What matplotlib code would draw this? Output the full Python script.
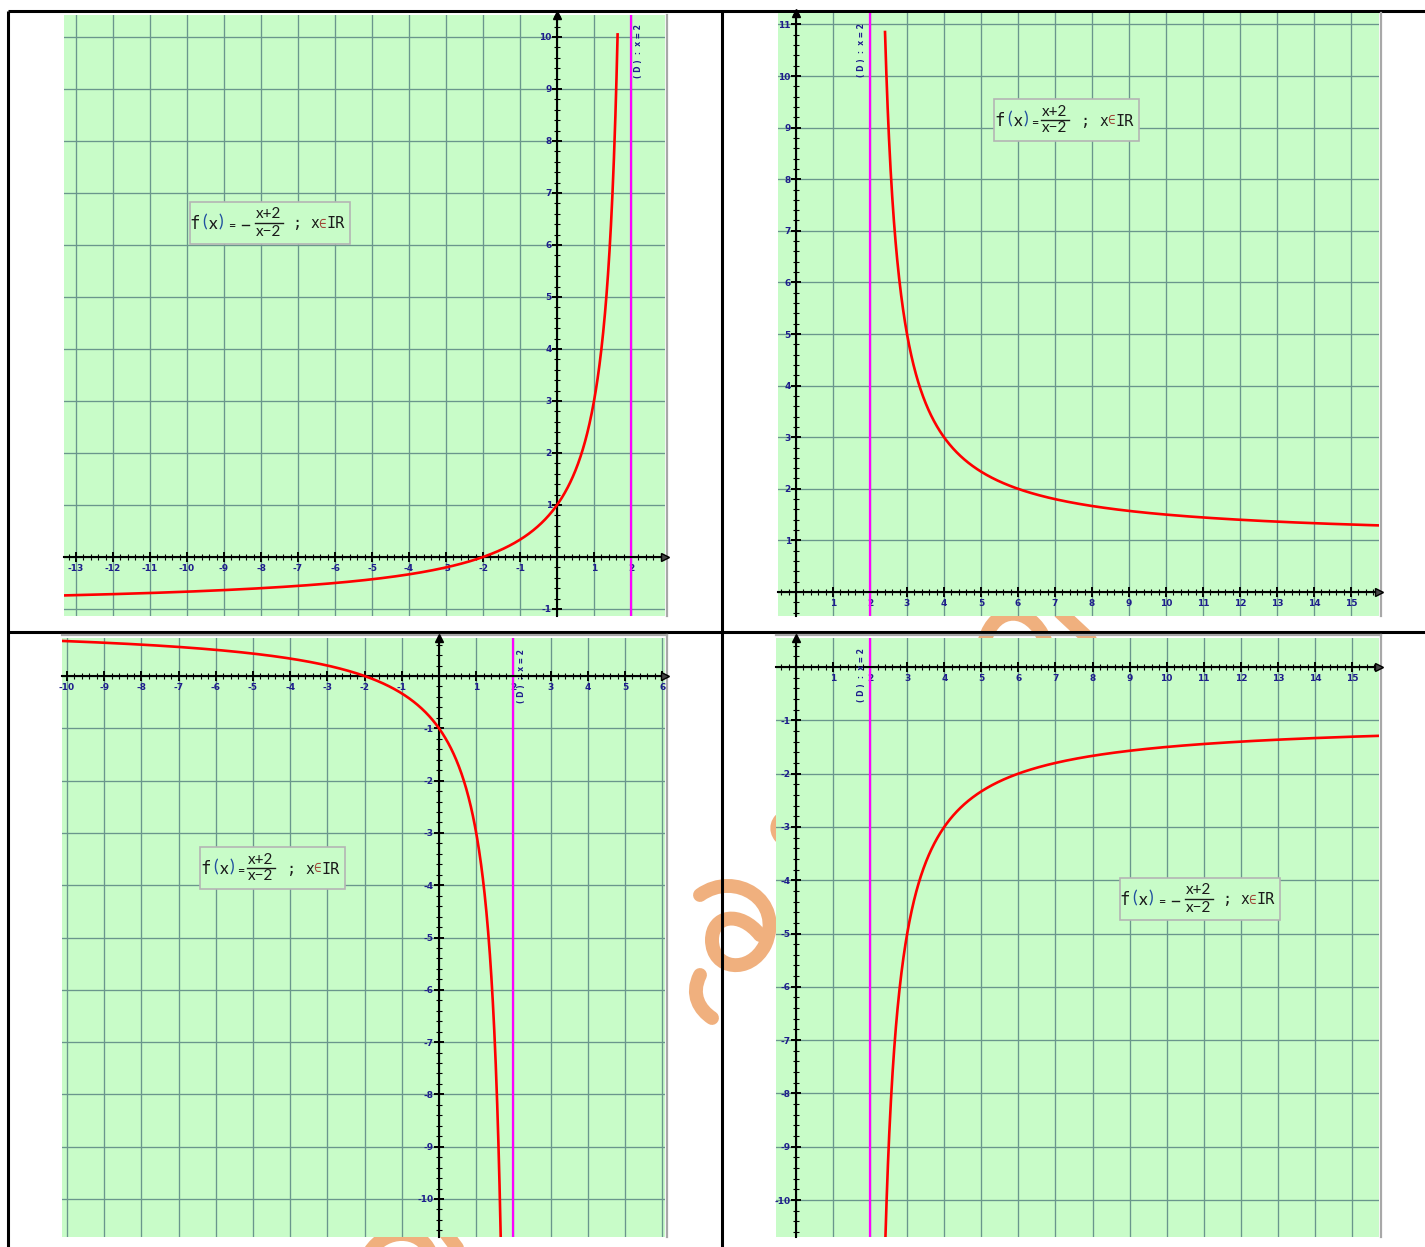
import numpy as np
import matplotlib
matplotlib.use("Agg")
import matplotlib.pyplot as plt
from matplotlib.patches import Rectangle, PathPatch
from matplotlib.path import Path
from matplotlib.ticker import MultipleLocator

W, H = 1425, 1247

# ---------------------------------------------------------------- data
asymptote_x = 2
# f(x) = sign * (x+2)/(x-2) for each of the four graphs
signs = [-1, 1, 1, -1]
curve_x_from = [-13.35, 2.406, -10.13, 2.41]
curve_x_to = [1.638, 15.73, 1.659, 15.73]

x_ticks = [list(range(-13, 3)), list(range(0, 16)),
           list(range(-10, 7)), list(range(0, 16))]
x_labels = [["-13", "-12", "-11", "-10", "-9", "-8", "-7", "-6", "-5", "-4",
             "-3", "-2", "-1", "", "1", "2"],
            ["", "1", "2", "3", "4", "5", "6", "7", "8", "9", "10", "11",
             "12", "13", "14", "15"],
            ["-10", "-9", "-8", "-7", "-6", "-5", "-4", "-3", "-2", "-1", "",
             "1", "2", "3", "4", "5", "6"],
            ["", "1", "2", "3", "4", "5", "6", "7", "8", "9", "10", "11",
             "12", "13", "14", "15"]]
y_ticks = [list(range(-1, 11)), list(range(0, 12)),
           list(range(-10, 1)), list(range(-10, 1))]
y_labels = [["-1", "", "1", "2", "3", "4", "5", "6", "7", "8", "9", "10"],
            ["", "1", "2", "3", "4", "5", "6", "7", "8", "9", "10", "11"],
            ["-10", "-9", "-8", "-7", "-6", "-5", "-4", "-3", "-2", "-1", ""],
            ["-10", "-9", "-8", "-7", "-6", "-5", "-4", "-3", "-2", "-1", ""]]
asymptote_label = "( D )  :  x = 2"

# ---------------------------------------------------------------- layout
# panel boxes in pixels (left, top, right, bottom), axis origin and unit sizes
boxes = [(64, 15, 665, 616), (778, 13, 1379, 616),
         (62, 638, 665, 1237), (776, 638, 1379, 1237)]
origins = [(557, 557), (796, 592), (439, 676), (796, 667)]
units = [(37.0, 52.0), (37.0, 51.6), (37.2, 52.3), (37.07, 53.3)]
# asymptote caption position (data coords)
cap_pos = [(2.19, 9.72), (1.78, 10.5), (2.22, 0.0), (1.78, -0.15)]
# formula boxes: fraction centre x, fraction bar y (pixels)
formula_pos = [(269, 223), (1055, 120), (261, 868), (1199, 899)]

GREEN = "#C8FCC8"
GRID = "#6A968C"
NAVY = "#1E1E8C"
RED = "#FF0000"
MAGENTA = "#FF00FF"
ORANGE = "#F0B07E"

fig = plt.figure(figsize=(W / 100, H / 100), dpi=100)
fig.patch.set_facecolor("white")

# background layer in pixel coordinates
bg = fig.add_axes([0, 0, 1, 1], zorder=0)
bg.set_xlim(0, W)
bg.set_ylim(H, 0)
bg.axis("off")

# faint decorative strokes behind the panels
def stroke(ax, verts, codes, lw=10):
    ax.add_patch(PathPatch(Path(verts, codes), fc="none", ec=ORANGE,
                           lw=lw, capstyle="round", joinstyle="round"))

M, C, L = Path.MOVETO, Path.CURVE4, Path.LINETO
stroke(bg, [(700, 895), (735, 870), (785, 900), (765, 945),
            (750, 975), (712, 970), (712, 940)],
       [M, C, C, C, C, C, C])
stroke(bg, [(712, 940), (712, 915), (740, 910), (760, 935)],
       [M, C, C, C])
stroke(bg, [(700, 975), (690, 995), (700, 1010), (712, 1018)],
       [M, C, C, C])
stroke(bg, [(985, 640), (995, 605), (1030, 605), (1045, 640)], [M, C, C, C])
stroke(bg, [(1060, 612), (1090, 640)], [M, L])
stroke(bg, [(370, 1252), (385, 1228), (420, 1228), (430, 1252)], [M, C, C, C])
stroke(bg, [(445, 1232), (460, 1252)], [M, L])
stroke(bg, [(782, 815), (772, 822), (772, 834), (782, 842)], [M, C, C, C], lw=6)

# table rules
tk = dict(color="black", lw=2.2, solid_capstyle="butt")
bg.plot([8, W], [11, 11], **tk)
bg.plot([8, W], [632, 632], **tk)
bg.plot([8, 8], [11, H], **tk)
bg.plot([722, 722], [11, H], **tk)

# grey frame edges of the graph windows
for i, (l, t, r, b) in enumerate(boxes):
    bg.plot([r + 2, r + 2], [t - (3 if i >= 2 else 0), b], color="#A8A8A8", lw=1.6)
    if i >= 2:
        bg.plot([l, r + 2], [t - 3, t - 3], color="#A8A8A8", lw=1.6)

# ---------------------------------------------------------------- graphs
for i in range(4):
    l, t, r, b = boxes[i]
    ox, oy = origins[i]
    ux, uy = units[i]
    ax = fig.add_axes([l / W, 1 - b / H, (r - l) / W, (b - t) / H], zorder=2)
    ax.set_facecolor(GREEN)
    ax.set_xlim((l - ox) / ux, (r - ox) / ux)
    ax.set_ylim((oy - b) / uy, (oy - t) / uy)

    ax.spines["left"].set_position("zero")
    ax.spines["bottom"].set_position("zero")
    ax.spines["top"].set_visible(False)
    ax.spines["right"].set_visible(False)
    for s in ("left", "bottom"):
        ax.spines[s].set_linewidth(1.5)
        ax.spines[s].set_color("black")
        ax.spines[s].set_zorder(4)

    ax.set_xticks(x_ticks[i])
    ax.set_xticklabels(x_labels[i])
    ax.set_yticks(y_ticks[i])
    ax.set_yticklabels(y_labels[i])
    ax.xaxis.set_minor_locator(MultipleLocator(0.2))
    ax.yaxis.set_minor_locator(MultipleLocator(0.2))
    ax.tick_params(which="major", direction="inout", length=6.5, width=1.4,
                   color="black", labelsize=6.5, labelcolor=NAVY)
    ax.tick_params(which="minor", direction="inout", length=4.5, width=0.8,
                   color="black")
    ax.tick_params(axis="x", which="major", pad=1.5)
    ax.tick_params(axis="y", which="major", pad=0.5)
    for lab in ax.get_xticklabels() + ax.get_yticklabels():
        lab.set_fontweight("bold")

    ax.grid(True, which="major", color=GRID, lw=0.95)
    ax.set_axisbelow(True)

    # axis arrow heads
    ax.plot(1, 0, marker=">", ms=6, color="black", mfc="#444444",
            transform=ax.get_yaxis_transform(), clip_on=False, zorder=5)
    ax.plot(0, 1, marker="^", ms=6, color="black",
            transform=ax.get_xaxis_transform(), clip_on=False, zorder=5)

    # vertical asymptote
    ax.axvline(asymptote_x, color=MAGENTA, lw=1.6, zorder=3)
    ax.text(cap_pos[i][0], cap_pos[i][1], asymptote_label, rotation=90,
            ha="center", va="center", fontsize=5.5, fontweight="bold",
            color=NAVY, zorder=5)

    # the function
    xs = np.linspace(curve_x_from[i], curve_x_to[i], 1500)
    ys = signs[i] * (xs + 2) / (xs - 2)
    ax.plot(xs, ys, color=RED, lw=1.9, zorder=6)

# ---------------------------------------------------------------- formula boxes
ov = fig.add_axes([0, 0, 1, 1], zorder=10)
ov.set_xlim(0, W)
ov.set_ylim(H, 0)
ov.axis("off")
ov.patch.set_alpha(0)

SANS = ["Lato", "DejaVu Sans"]
MONO = ["DejaVu Sans Mono"]
DARK = "#1A1A1A"

for i in range(4):
    c, yl = formula_pos[i]
    neg = signs[i] < 0
    if neg:
        o = dict(f=-74, px=-56, eq=-37, semi=28, xin=41, l=-79, r=81)
    else:
        o = dict(f=-55, px=-37, eq=-20, semi=30, xin=44, l=-61, r=84)
    ov.add_patch(Rectangle((c + o["l"], yl - 21), o["r"] - o["l"], 42,
                           fc=GREEN, ec="#B4B4B4", lw=1.2))
    ov.text(c + o["f"], yl + 1, "f", fontsize=12.5, family=MONO, color=DARK,
            ha="center", va="center")
    ov.text(c + o["px"] - 8, yl - 1, "(", fontsize=12.5, family=SANS,
            color="#2050A0", ha="center", va="center")
    ov.text(c + o["px"], yl + 1, "x", fontsize=12.5, family=SANS, color=DARK,
            ha="center", va="center")
    ov.text(c + o["px"] + 8, yl - 1, ")", fontsize=12.5, family=SANS,
            color="#2050A0", ha="center", va="center")
    ov.text(c + o["eq"], yl + 3, "=", fontsize=9, family=SANS, color=DARK,
            ha="center", va="center")
    if neg:
        ov.plot([c - 27, c - 20], [yl + 2, yl + 2], color=DARK, lw=1.0)
    ov.text(c, yl - 1.5, "x+2", fontsize=11, family=SANS, color=DARK,
            ha="center", va="bottom")
    ov.plot([c - 14, c + 14], [yl, yl], color=DARK, lw=1.0)
    ov.text(c, yl + 1.5, "x\u22122", fontsize=11, family=SANS, color=DARK,
            ha="center", va="top")
    ov.text(c + o["semi"], yl + 1, ";", fontsize=11, family=MONO, color=DARK,
            ha="center", va="center")
    ov.text(c + o["xin"], yl + 1, "x", fontsize=10.5, family=MONO, color=DARK,
            ha="left", va="center")
    ov.text(c + o["xin"] + 8, yl + 1, "\u2208", fontsize=9, family=MONO,
            color="#A04838", ha="left", va="center")
    ov.text(c + o["xin"] + 17, yl + 1, "IR", fontsize=11, family=MONO,
            color=DARK, ha="left", va="center")

fig.savefig("out.png", dpi=100, facecolor="white")
